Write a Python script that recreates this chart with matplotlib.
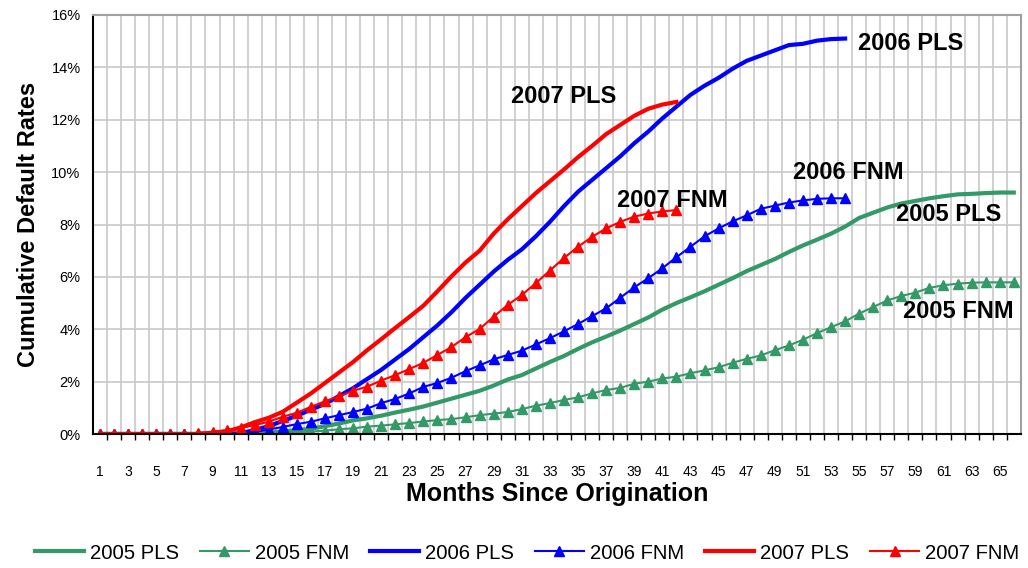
import matplotlib
matplotlib.use("Agg")
import matplotlib.pyplot as plt
import numpy as np
from matplotlib.ticker import FixedLocator, FuncFormatter

plt.rcParams['font.family'] = ['Liberation Sans', 'DejaVu Sans']

# cumulative default rates (%) by months since origination
pls_2005 = [0] * 11 + [0.02, 0.05, 0.1, 0.14, 0.2, 0.3, 0.4, 0.52, 0.6, 0.7, 0.82, 0.93, 1.05, 1.2,
                       1.35, 1.5, 1.65, 1.85, 2.08, 2.25, 2.5, 2.75, 2.98, 3.25, 3.5, 3.72, 3.95, 4.2,
                       4.45, 4.75, 5.0, 5.22, 5.45, 5.7, 5.95, 6.22, 6.45, 6.68, 6.95, 7.2, 7.42, 7.65,
                       7.92, 8.25, 8.45, 8.65, 8.8, 8.9, 9.0, 9.08, 9.15, 9.17, 9.2, 9.22, 9.22]
fnm_2005 = [0] * 13 + [0.01, 0.05, 0.09, 0.13, 0.18, 0.22, 0.28, 0.32, 0.37, 0.42, 0.48, 0.53, 0.57,
                       0.64, 0.72, 0.78, 0.84, 0.95, 1.08, 1.18, 1.3, 1.4, 1.55, 1.68, 1.76, 1.92, 2.0,
                       2.12, 2.19, 2.32, 2.43, 2.55, 2.72, 2.87, 3.0, 3.2, 3.38, 3.6, 3.85, 4.08, 4.3,
                       4.6, 4.85, 5.1, 5.27, 5.4, 5.58, 5.68, 5.74, 5.78, 5.79, 5.79, 5.79]
pls_2006 = [0] * 10 + [0.03, 0.15, 0.3, 0.5, 0.7, 0.93, 1.15, 1.45, 1.75, 2.1, 2.45, 2.85, 3.25, 3.7,
                       4.15, 4.65, 5.2, 5.7, 6.2, 6.65, 7.05, 7.55, 8.1, 8.7, 9.25, 9.7, 10.15, 10.6,
                       11.1, 11.55, 12.05, 12.5, 12.95, 13.3, 13.6, 13.95, 14.25, 14.45, 14.65, 14.85,
                       14.9, 15.02, 15.08, 15.1]
fnm_2006 = [0] * 10 + [0.03, 0.08, 0.17, 0.27, 0.38, 0.47, 0.6, 0.72, 0.84, 0.97, 1.18, 1.34, 1.55,
                       1.8, 1.95, 2.15, 2.4, 2.62, 2.85, 3.02, 3.18, 3.42, 3.66, 3.92, 4.2, 4.5, 4.8,
                       5.2, 5.6, 5.95, 6.33, 6.75, 7.15, 7.55, 7.85, 8.12, 8.35, 8.6, 8.72, 8.84, 8.92,
                       8.98, 9.0, 9.0]
pls_2007 = [0] * 8 + [0.03, 0.1, 0.25, 0.45, 0.62, 0.85, 1.2, 1.55, 1.95, 2.35, 2.75, 3.2, 3.62, 4.05,
                      4.47, 4.9, 5.45, 6.02, 6.55, 7.0, 7.65, 8.2, 8.7, 9.2, 9.65, 10.1, 10.57, 11.0,
                      11.45, 11.8, 12.15, 12.42, 12.58, 12.68]
fnm_2007 = [0] * 7 + [0.05, 0.09, 0.15, 0.23, 0.34, 0.47, 0.66, 0.81, 1.04, 1.25, 1.44, 1.65, 1.81,
                      2.04, 2.25, 2.48, 2.72, 3.02, 3.32, 3.7, 4.01, 4.48, 4.93, 5.31, 5.76, 6.24, 6.72,
                      7.15, 7.53, 7.85, 8.1, 8.3, 8.42, 8.5, 8.55]

series = [("2005 PLS", pls_2005), ("2005 FNM", fnm_2005), ("2006 PLS", pls_2006),
          ("2006 FNM", fnm_2006), ("2007 PLS", pls_2007), ("2007 FNM", fnm_2007)]
colors = ["#339966", "#339966", "#0000ff", "#0000ff", "#ff0000", "#ff0000"]

n_months = 66
tick_months = list(range(1, n_months + 1, 2))
y_ticks = list(range(0, 17, 2))

fig = plt.figure(figsize=(10.28, 5.68), dpi=100)
ax = fig.add_axes([0.0905, 0.2359, 0.9025, 0.7377])

for (name, vals), col in zip(series, colors):
    x = np.arange(1, len(vals) + 1)
    if "PLS" in name:
        ax.plot(x, vals, color=col, lw=3.0, label=name, solid_joinstyle="round")
    else:
        ax.plot(x, vals, color=col, lw=1.5, marker="^", ms=7.5, label=name)

# series labels on the chart
ax.text(54.9, 14.9, "2006 PLS", fontsize=17, fontweight="bold", va="center", ha="left")
ax.text(30.2, 12.87, "2007 PLS", fontsize=17, fontweight="bold", va="center", ha="left")
ax.text(50.3, 9.97, "2006 FNM", fontsize=17, fontweight="bold", va="center", ha="left")
ax.text(37.8, 8.9, "2007 FNM", fontsize=17, fontweight="bold", va="center", ha="left")
ax.text(57.6, 8.4, "2005 PLS", fontsize=17, fontweight="bold", va="center", ha="left")
ax.text(58.1, 4.66, "2005 FNM", fontsize=17, fontweight="bold", va="center", ha="left")

ax.set_xlim(0.5, n_months + 0.5)
ax.set_ylim(0, 16)
ax.xaxis.set_major_locator(FixedLocator(tick_months))
ax.xaxis.set_minor_locator(FixedLocator(np.arange(1.5, n_months, 1)))
ax.set_xticklabels([str(m) for m in tick_months])
ax.set_yticks(y_ticks)
ax.yaxis.set_major_formatter(FuncFormatter(lambda v, p: "%d%%" % v))
ax.tick_params(axis="x", which="major", length=0, pad=22, labelsize=10)
ax.tick_params(axis="x", which="minor", length=4, width=1, direction="out")
ax.tick_params(axis="y", length=0, pad=9, labelsize=10.5)

ax.grid(axis="x", which="minor", color="#c8c8c8", lw=1.2)
ax.grid(axis="y", which="major", color="#c8c8c8", lw=1.2)
ax.set_axisbelow(True)

for s in ["left", "bottom"]:
    ax.spines[s].set_color("black")
    ax.spines[s].set_linewidth(1.5)
for s in ["top", "right"]:
    ax.spines[s].set_color("#a0a0a0")
    ax.spines[s].set_linewidth(1.5)

ax.set_ylabel("Cumulative Default Rates", fontsize=17, fontweight="bold")
ax.yaxis.set_label_coords(-0.0575, 0.5)
ax.set_xlabel("Months Since Origination", fontsize=18, fontweight="bold")
ax.xaxis.set_label_coords(0.5, -0.115)
ax.xaxis.label.set_va("top")

fig.legend(loc="center", bbox_to_anchor=(0.5126, 0.0264), ncol=6, frameon=False,
           fontsize=14.6, handlelength=2.4, handletextpad=0.3, columnspacing=1.05)

fig.savefig("out.png", dpi=100)
